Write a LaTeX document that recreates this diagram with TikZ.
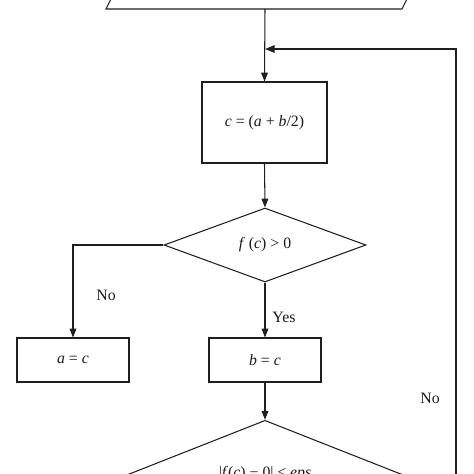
\documentclass[tikz,border=0pt]{standalone}
\usepackage{fontspec}
\setmainfont{Liberation Serif}
\usetikzlibrary{shapes.geometric,arrows.meta}
\def\pu{0.02cm}
\begin{document}
\begin{tikzpicture}[x=0.02cm,y=-0.02cm,
  line/.style={draw=black!88, line width=0.6pt},
  arr/.style={line, -{Triangle[length=5pt,width=3.8pt]}},
  txt/.style={font=\fontsize{9}{11}\selectfont, text=black!90},
  proc/.style={line, txt, rectangle, inner sep=0pt, align=center},
  dec/.style={line, txt, diamond, inner sep=0pt, align=center},
  lbl/.style={txt, inner sep=0pt}]
\useasboundingbox (0,0) rectangle (474,474);
\clip (0,0) rectangle (474,474);
% input parallelogram (cut off at the top)
\draw[line] (106,9) -- (402,9) -- (422,-31) -- (126,-31) -- cycle;
\coordinate (in) at (265,9);
\node[proc, minimum width=125*\pu, minimum height=81*\pu] (mid) at (264.5,122.5)
  {\textit{c} = (\textit{a} + \textit{b}/2)};
\node[dec, minimum width=202*\pu, minimum height=74*\pu] (test) at (265,245)
  {\textit{f} (\textit{c}) > 0};
\node[proc, minimum width=112*\pu, minimum height=44*\pu] (seta) at (73,360)
  {\textit{a} = \textit{c}};
\node[proc, minimum width=112*\pu, minimum height=44*\pu] (setb) at (265,360)
  {\textit{b} = \textit{c}};
\node[dec, minimum width=292*\pu, minimum height=80*\pu, text depth=6.7pt] (stop) at (265,478)
  {|\textit{f}(\textit{c}) − 0| ≤ \textit{eps}};
\coordinate (turn) at (456,49);
\coordinate (merge) at (265,49);
% connectors
\draw[arr] (in) -- (mid.north);
\draw[arr] (mid.south) -- (test.north);
\draw[arr] (test.west) -| (seta.north);
\draw[arr] (test.south) -- (setb.north);
\draw[arr] (setb.south) -- (stop.north);
\draw[line, line width=1.1pt, -{Triangle[length=5.5pt,width=4.2pt]}] (stop.east) -| (turn) -- (merge);
% labels
\node[lbl] at (106,295) {No};
\node[lbl] at (284,317) {Yes};
\node[lbl] at (430,398) {No};
\end{tikzpicture}
\end{document}
